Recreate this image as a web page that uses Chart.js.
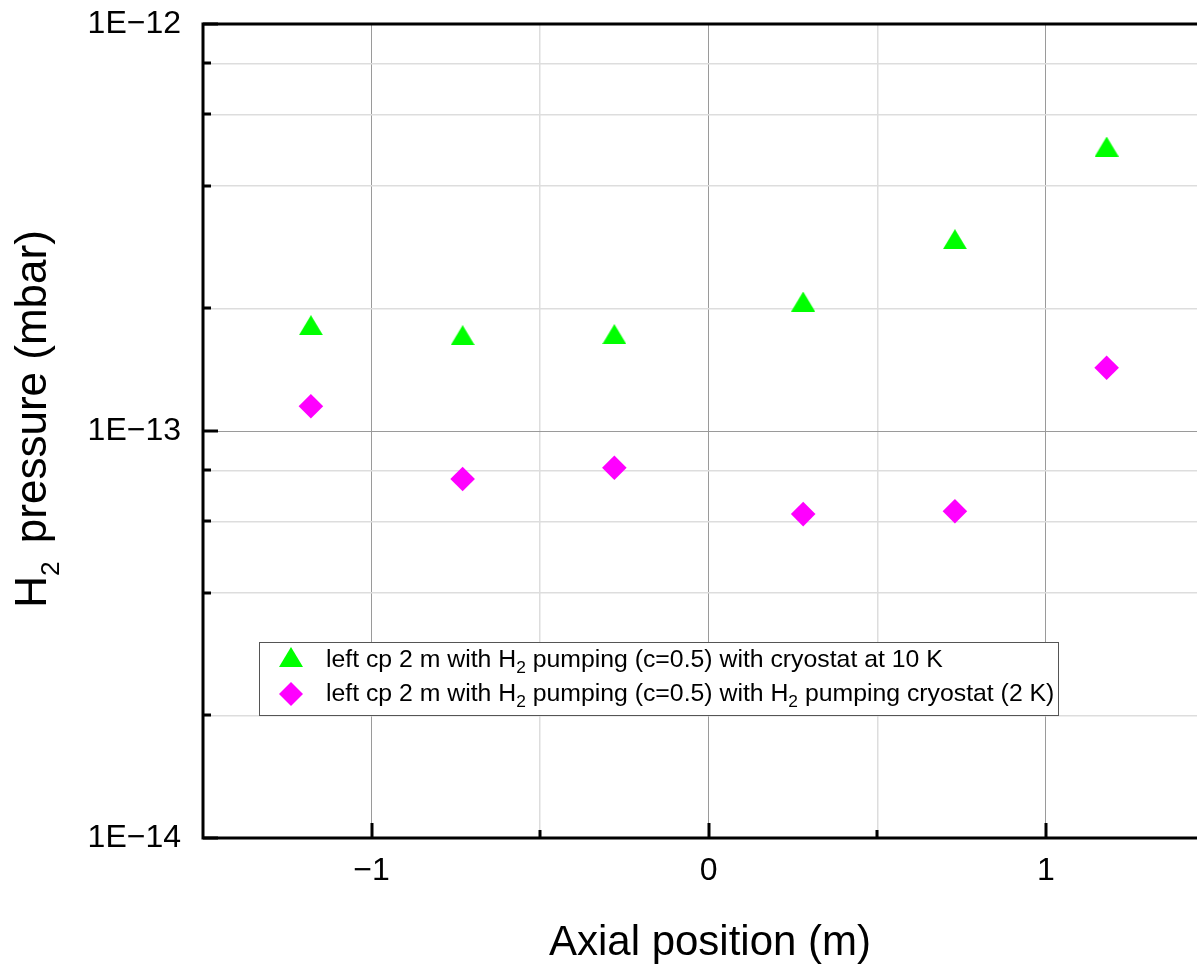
<!DOCTYPE html>
<html>
<head>
<meta charset="utf-8">
<script src="https://cdn.jsdelivr.net/npm/chart.js@4.4.1/dist/chart.umd.min.js"></script>
<style>
  html, body { margin: 0; padding: 0; background: #ffffff; }
  canvas { display: block; }
</style>
</head>
<body>
<canvas id="pressureChart" width="1197" height="969"></canvas>
<script>
// axial positions (m)
const positions = [-1.18, -0.73, -0.28, 0.28, 0.73, 1.18];
// H2 pressure (mbar)
const pressure10K = [1.82e-13, 1.72e-13, 1.73e-13, 2.08e-13, 2.96e-13, 5.0e-13];
const pressure2K = [1.15e-13, 7.62e-14, 8.12e-14, 6.25e-14, 6.35e-14, 1.43e-13];

const seriesLabels = [
  ["left cp 2 m with H", "2", " pumping (c=0.5) with cryostat at 10 K"],
  ["left cp 2 m with H", "2", " pumping (c=0.5) with H", "2", " pumping cryostat (2 K)"]
];

const xTicks = [-1, -0.5, 0, 0.5, 1];
const xMajor = [-1, 0, 1];
const yTicks = [1e-14, 2e-14, 4e-14, 6e-14, 8e-14, 1e-13, 2e-13, 4e-13, 6e-13, 8e-13, 1e-12];

const FONT = "'Liberation Sans', Arial, sans-serif";
const GREEN = "#00ff00";
const MAGENTA = "#ff00ff";

function isDecade(v) {
  const e = Math.round(Math.log10(v));
  return Math.abs(v / Math.pow(10, e) - 1) < 1e-6;
}

function isXMajor(v) {
  return xMajor.some(m => Math.abs(m - v) < 1e-9);
}

// triangle marker centred on its bounding box
function makeTriangle(w, h, color) {
  const c = document.createElement("canvas");
  c.width = w;
  c.height = h;
  const g = c.getContext("2d");
  g.fillStyle = color;
  g.beginPath();
  g.moveTo(0, h);
  g.lineTo(w / 2, 0);
  g.lineTo(w, h);
  g.closePath();
  g.fill();
  return c;
}
const triangle = makeTriangle(24, 20, GREEN);

// text with subscripts: parts alternate normal / sub
function drawRich(ctx, parts, x, y, size, subScale, subDrop, subGap) {
  let cx = x;
  parts.forEach((p, i) => {
    const sub = i % 2 === 1;
    ctx.font = (sub ? size * subScale : size) + "px " + FONT;
    ctx.fillText(p, cx, sub ? y + subDrop : y);
    cx += ctx.measureText(p).width + (sub ? subGap : 0);
  });
  return cx - x;
}

function richWidth(ctx, parts, size, subScale, subGap) {
  let w = 0;
  parts.forEach((p, i) => {
    const sub = i % 2 === 1;
    ctx.font = (sub ? size * subScale : size) + "px " + FONT;
    w += ctx.measureText(p).width + (sub ? subGap : 0);
  });
  return w;
}

const framePlugin = {
  id: "frame",
  afterDatasetsDraw(chart) {
    const ctx = chart.ctx;
    const a = chart.chartArea;
    const xs = chart.scales.x;
    const ys = chart.scales.y;
    ctx.save();
    ctx.strokeStyle = "#000000";
    ctx.lineWidth = 3;
    ctx.lineCap = "butt";

    // inward ticks
    xTicks.forEach(v => {
      const px = Math.round(xs.getPixelForValue(v));
      const len = isXMajor(v) ? 15 : 8;
      ctx.beginPath();
      ctx.moveTo(px, a.bottom);
      ctx.lineTo(px, a.bottom - len);
      ctx.stroke();
    });
    yTicks.forEach(v => {
      const py = Math.round(ys.getPixelForValue(v));
      const len = isDecade(v) ? 15 : 8;
      ctx.beginPath();
      ctx.moveTo(a.left, py);
      ctx.lineTo(a.left + len, py);
      ctx.stroke();
    });

    // axis frame (left, bottom, top)
    ctx.beginPath();
    ctx.moveTo(a.right, a.top);
    ctx.lineTo(a.left, a.top);
    ctx.lineTo(a.left, a.bottom);
    ctx.lineTo(a.right, a.bottom);
    ctx.stroke();
    ctx.restore();
  },
  afterDraw(chart) {
    const ctx = chart.ctx;
    ctx.save();
    ctx.fillStyle = "#000000";
    ctx.textBaseline = "alphabetic";

    // x title
    ctx.font = "42px " + FONT;
    ctx.textAlign = "center";
    ctx.fillText("Axial position (m)", 710, 955);

    // y title, rotated
    ctx.textAlign = "left";
    const yParts = ["H", "2", " pressure (mbar)"];
    const yw = richWidth(ctx, yParts, 44, 0.6, 6);
    ctx.translate(46, 419);
    ctx.rotate(-Math.PI / 2);
    drawRich(ctx, yParts, -yw / 2, 0, 44, 0.6, 13, 6);
    ctx.restore();

    // legend
    ctx.save();
    const box = { x: 259.5, y: 642.5, w: 799, h: 73 };
    ctx.fillStyle = "#ffffff";
    ctx.fillRect(box.x, box.y, box.w, box.h);
    ctx.strokeStyle = "#555555";
    ctx.lineWidth = 1;
    ctx.strokeRect(box.x, box.y, box.w, box.h);

    ctx.drawImage(triangle, 291 - 12, 657 - 10);
    ctx.fillStyle = MAGENTA;
    ctx.beginPath();
    ctx.moveTo(291 - 12, 694);
    ctx.lineTo(291, 682);
    ctx.lineTo(291 + 12, 694);
    ctx.lineTo(291, 706);
    ctx.closePath();
    ctx.fill();

    ctx.fillStyle = "#000000";
    ctx.textAlign = "left";
    ctx.textBaseline = "alphabetic";
    drawRich(ctx, seriesLabels[0], 326, 667, 24.8, 0.7, 6, 0);
    drawRich(ctx, seriesLabels[1], 326, 701, 24.8, 0.7, 6, 0);
    ctx.restore();
  }
};

const ctx = document.getElementById("pressureChart").getContext("2d");

new Chart(ctx, {
  type: "scatter",
  data: {
    datasets: [
      {
        label: "cryostat at 10 K",
        data: positions.map((x, i) => ({ x: x, y: pressure10K[i] })),
        pointStyle: triangle,
        pointRadius: 12,
        backgroundColor: GREEN,
        borderWidth: 0
      },
      {
        label: "H2 pumping cryostat (2 K)",
        data: positions.map((x, i) => ({ x: x, y: pressure2K[i] })),
        pointStyle: "rectRot",
        pointRadius: 12.3,
        backgroundColor: MAGENTA,
        borderColor: MAGENTA,
        borderWidth: 0
      }
    ]
  },
  options: {
    responsive: false,
    animation: false,
    devicePixelRatio: 1,
    layout: {
      autoPadding: false,
      padding: { top: 24, right: 0, left: 0, bottom: 0 }
    },
    plugins: {
      legend: { display: false },
      tooltip: { enabled: false }
    },
    scales: {
      x: {
        type: "linear",
        min: -1.5,
        max: 1.448,
        afterBuildTicks: scale => {
          scale.ticks = xTicks.map(v => ({ value: v }));
        },
        afterFit: scale => {
          scale.height = 131;
          scale.paddingLeft = 0;
          scale.paddingRight = 0;
        },
        border: { display: false },
        grid: {
          drawTicks: false,
          color: c => isXMajor(c.tick.value) ? "#9a9a9a" : "#dddddd",
          lineWidth: c => isXMajor(c.tick.value) ? 1 : 1.5
        },
        ticks: {
          autoSkip: false,
          maxRotation: 0,
          padding: 14,
          color: "#000000",
          font: { family: FONT, size: 32 },
          callback: v => isXMajor(v) ? (v < 0 ? "\u2212" + Math.abs(v) : String(v)) : ""
        }
      },
      y: {
        type: "logarithmic",
        min: 1e-14,
        max: 1e-12,
        afterBuildTicks: scale => {
          scale.ticks = yTicks.map(v => ({ value: v }));
        },
        afterFit: scale => {
          scale.width = 203;
          scale.paddingTop = 0;
          scale.paddingBottom = 0;
        },
        border: { display: false },
        grid: {
          drawTicks: false,
          color: c => isDecade(c.tick.value) ? "#9a9a9a" : "#dddddd",
          lineWidth: c => isDecade(c.tick.value) ? 1 : 1.5
        },
        ticks: {
          autoSkip: false,
          padding: 22,
          color: "#000000",
          font: { family: FONT, size: 32 },
          callback: v => isDecade(v) ? "1E\u2212" + Math.abs(Math.round(Math.log10(v))) : ""
        }
      }
    }
  },
  plugins: [framePlugin]
});
</script>
</body>
</html>
